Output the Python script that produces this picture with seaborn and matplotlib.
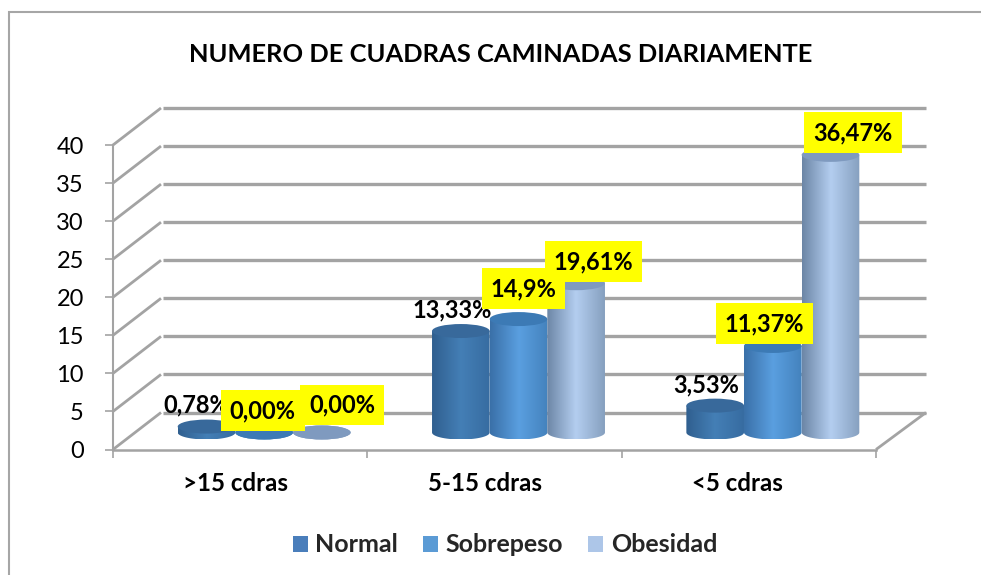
import numpy as np
import pandas as pd
import matplotlib
matplotlib.use('Agg')
import matplotlib.pyplot as plt
import seaborn as sns
from matplotlib.colors import LinearSegmentedColormap
from matplotlib.lines import Line2D
from matplotlib.patches import Ellipse, Patch, PathPatch, Rectangle
from matplotlib.path import Path
from matplotlib.transforms import ScaledTranslation

categories = ['>15 cdras', '5-15 cdras', '<5 cdras']
series = ['Normal', 'Sobrepeso', 'Obesidad']
normal = [0.78, 13.33, 3.53]
sobrepeso = [0.0, 14.9, 11.37]
obesidad = [0.0, 19.61, 36.47]
normal_labels = ['0,78%', '13,33%', '3,53%']
sobrepeso_labels = ['0,00%', '14,9%', '11,37%']
obesidad_labels = ['0,00%', '19,61%', '36,47%']
y_ticks = [0, 5, 10, 15, 20, 25, 30, 35, 40]

W, H = 981, 575
GREY = '#a3a3a3'
DEPTH_X, DEPTH_Y = 48, 37
BAR_X, BAR_Y = 24, 17
ELL_H = 14

legend_colors = ['#4a7ebb', '#5b9bd5', '#adc6e8']
shades = [['#305f8f', '#447fb6', '#376ca1'],
          ['#3a70a8', '#5a9fe0', '#4482bd'],
          ['#6c86a6', '#b4cef0', '#86a0bf']]
top_colors = ['#38699b', '#3c7ab5', '#7f9abf']
# label offsets from the top of each cylinder, px (labels were moved by hand in the original)
offsets = [[(-10, 22), (-1.5, 22), (20.5, 27.5)],
           [(-8.5, 21), (5, 30.5), (17.5, 21.5)],
           [(-8.5, 20.7), (-8.5, 22.5), (22.5, 22.2)]]
boxed = [[False, True, True], [False, True, True], [False, True, True]]
cat_shift = [-5, -10, -11]

sns.set_theme(style='white')
plt.rcParams['font.family'] = ['Lato', 'DejaVu Sans']


def rect(x0, ytop, x1, ybot):
    return [x0 / W, 1 - ybot / H, (x1 - x0) / W, (ybot - ytop) / H]


def px_line(fig, xs, ys, lw):
    fig.add_artist(Line2D([x / W for x in xs], [1 - y / H for y in ys], color=GREY, lw=lw,
                          solid_capstyle='butt', transform=fig.transFigure))


df = pd.DataFrame({
    'cat': categories * 3,
    'serie': np.repeat(series, 3),
    'valor': normal + sobrepeso + obesidad,
})

fig = plt.figure(figsize=(W / 100, H / 100), dpi=100)
# chart border runs off the right and bottom of the crop
fig.add_artist(Rectangle((9 / W, -0.02), 1.1, 1.02 - 12 / H, fill=False, ec='#a6a6a6', lw=1.5,
                         transform=fig.transFigure))

x0, x1, y40, y0 = 113, 876, 145, 449.5

# back wall
back = fig.add_axes(rect(x0 + DEPTH_X + 2, y40 - DEPTH_Y, x1 + DEPTH_X + 2, y0 - DEPTH_Y))
back.set_ylim(0, 40)
back.set_xlim(0, 1)
back.patch.set_alpha(0)
for s in back.spines.values():
    s.set_visible(False)
back.set_xticks([])
back.set_yticks([])
back.hlines(y_ticks, 0, 1, color=GREY, lw=2.4, clip_on=False)

# front axis
ax = fig.add_axes(rect(x0, y40, x1, y0))
ax.patch.set_alpha(0)
ax.set_xlim(-0.5, 2.5)
ax.set_ylim(0, 40)
sns.despine(ax=ax, top=True, right=True)
ax.spines['left'].set_color(GREY)
ax.spines['left'].set_linewidth(1.5)
ax.spines['bottom'].set_color(GREY)
ax.spines['bottom'].set_linewidth(1.8)
ax.set_yticks(y_ticks)
ax.tick_params(axis='y', length=6, width=1.2, color=GREY, labelsize=17, labelcolor='black', pad=15, left=True)
ax.set_xticks([-0.5, 0.5, 1.5, 2.5])
ax.set_xticklabels([])
ax.tick_params(axis='x', which='major', length=6, width=1.2, color=GREY, bottom=True)
ax.set_xticks([0, 1, 2], minor=True)
ax.set_xticklabels(categories, minor=True, fontweight='bold', fontsize=17.3)
ax.tick_params(axis='x', which='minor', length=0, pad=16, labelcolor='black')
for lab, dx in zip(ax.get_xticklabels(minor=True), cat_shift):
    lab.set_transform(lab.get_transform() + ScaledTranslation(dx / 100, 0, fig.dpi_scale_trans))

# depth diagonals
for v in y_ticks:
    y = y0 - (y0 - y40) * v / 40
    px_line(fig, [x0, x0 + DEPTH_X], [y, y - DEPTH_Y], 2.0)
px_line(fig, [x1, x1 + DEPTH_X + 2], [y0, y0 - DEPTH_Y], 2.0)

# cylinders
bars = fig.add_axes(rect(x0 + BAR_X, y40 - BAR_Y, x1 + BAR_X, y0 - BAR_Y))
sns.barplot(data=df, x='cat', y='valor', hue='serie', order=categories, hue_order=series,
            palette=legend_colors, width=0.68, gap=0, dodge=True, saturation=1, legend=False,
            linewidth=0, ax=bars)
bars.set_xlim(-0.5, 2.5)
bars.set_ylim(0, 40)
bars.axis('off')
bars.patch.set_alpha(0)

data_h = ELL_H * 40 / (y0 - y40)
texts = [normal_labels, sobrepeso_labels, obesidad_labels]
for s, cont in enumerate(bars.containers):
    cmap = LinearSegmentedColormap.from_list('c%d' % s, shades[s])
    grad = np.linspace(0, 1, 128).reshape(1, -1)
    for patch in cont:
        bx, bw, bh = patch.get_x(), patch.get_width(), patch.get_height()
        cx = bx + bw / 2
        patch.set_visible(False)
        if bh > 0:
            t = np.linspace(np.pi, 2 * np.pi, 40)
            arc = np.column_stack([cx + bw / 2 * np.cos(t), data_h / 2 * np.sin(t)])
            verts = np.vstack([arc, [bx + bw, bh], [bx, bh], arc[0]])
            clip = PathPatch(Path(verts), transform=bars.transData, fc='none', ec='none', clip_on=False)
            bars.add_patch(clip)
            im = bars.imshow(grad, cmap=cmap, aspect='auto', zorder=2 + s,
                             extent=[bx, bx + bw, -data_h / 2, bh], interpolation='bilinear')
            im.set_clip_box(fig.bbox)
            im.set_clip_path(clip)
        else:
            bars.add_patch(Ellipse((cx, 0), bw, data_h, fc=top_colors[s], ec='none', zorder=2 + s,
                                   clip_on=False))
        bars.add_patch(Ellipse((cx, bh), bw, data_h, fc=top_colors[s], ec='none', zorder=2.5 + s,
                               clip_on=False))
bars.set_xlim(-0.5, 2.5)
bars.set_ylim(0, 40)

# value labels
for s, cont in enumerate(bars.containers):
    for i, patch in enumerate(cont):
        box = dict(boxstyle='square,pad=0.38', fc='#ffff00', ec='none') if boxed[i][s] else None
        bars.annotate(texts[s][i], (patch.get_x() + patch.get_width() / 2, patch.get_height()),
                      xytext=offsets[i][s], textcoords='offset pixels', ha='center', va='center',
                      fontsize=17, fontweight='bold', color='black', bbox=box, zorder=10 + s,
                      annotation_clip=False)

fig.text(500.5 / W, 1 - 54 / H, 'NUMERO DE CUADRAS CAMINADAS DIARIAMENTE', ha='center', va='center',
         fontsize=18.35, fontweight='bold', color='black')

handles = [Patch(fc=c, ec='none') for c in legend_colors]
fig.legend(handles, series, loc='center', bbox_to_anchor=(505 / W, 1 - 545 / H), ncol=3, frameon=False,
           prop={'weight': 'bold', 'size': 18}, handlelength=0.6, handleheight=0.6, handletextpad=0.3,
           columnspacing=1.0)

fig.savefig('out.png', dpi=100)
